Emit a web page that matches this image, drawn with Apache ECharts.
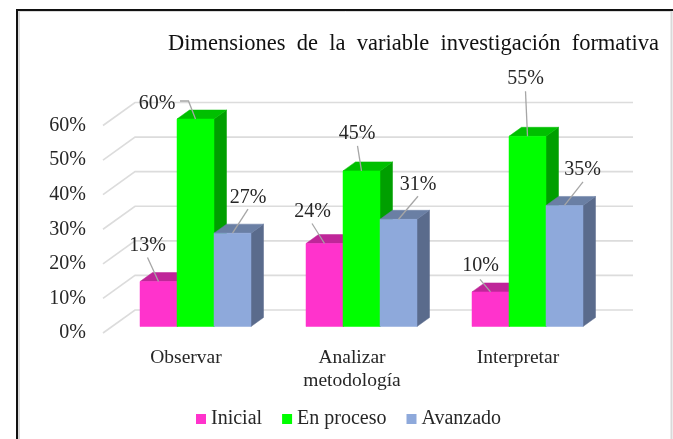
<!DOCTYPE html>
<html><head><meta charset="utf-8">
<style>html,body{margin:0;padding:0;background:#fff}#c{width:673px;height:439px}</style>
<script src="https://cdn.jsdelivr.net/npm/echarts@6/dist/echarts.min.js"></script>
</head><body><div id="c"></div>
<script>
const categories = ['Observar', 'Analizar\nmetodología', 'Interpretar'];
const inicial = [13, 24, 10];
const enProceso = [60, 45, 55];
const avanzado = [27, 31, 35];
const yTicks = [0, 10, 20, 30, 40, 50, 60];
const titleText = 'Dimensiones  de  la  variable  investigación  formativa';

// layout of the oblique projection (pixels)
const FONT = '"Liberation Serif", "Times New Roman", serif';
const WALL = [32, -23], BAR_SHIFT = [9.5, -6.5], BAR_DEPTH = [12.5, -9], BAR_W = 37;
// label centre and leader start, relative to the top-centre of each bar's front face
const inicialLabels = [[-11, -36, -11, -24], [-12, -32, -12.5, -20], [-10, -26, -10.5, -12.5]];
const procesoLabels = [[-38.5, -15.5, -15.5, -18, -7, -18], [-4.5, -37, -4, -25], [-2, -57.5, -2, -45]];
const avanzadoLabels = [[15.5, -35, 15.5, -24], [19.5, -35, 19.5, -23], [18, -36, 18.5, -23.5]];

const chart = echarts.init(document.getElementById('c'), null, {renderer: 'canvas'});

function barSeries(name, values, labels, col, idx) {
  return {
    name, type: 'custom', coordinateSystem: 'cartesian2d', z: 3 + idx,
    itemStyle: {color: col[0]},
    encode: {x: 0, y: 1},
    data: values.map((v, i) => [i, v]),
    renderItem(params, api) {
      const c = api.value(0), v = api.value(1);
      const p0 = api.coord([c, 0]), p1 = api.coord([c, v]);
      const x = p0[0] + BAR_SHIFT[0] + (idx - 1.5) * BAR_W;
      const yb = p0[1] + BAR_SHIFT[1], yt = p1[1] + BAR_SHIFT[1];
      const dx = BAR_DEPTH[0], dy = BAR_DEPTH[1], w = BAR_W;
      const poly = (pts, fill) => ({type: 'polygon', shape: {points: pts}, style: {fill, stroke: fill, lineWidth: 0.5}});
      const cx = x + w / 2, L = labels[c];
      const pts = [];
      for (let k = 2; k < L.length; k += 2) pts.push([cx + L[k], yt + L[k + 1]]);
      pts.push([cx, yt]);
      return {type: 'group', children: [
        poly([[x + w, yb], [x + w + dx, yb + dy], [x + w + dx, yt + dy], [x + w, yt]], col[2]),
        poly([[x, yt], [x + dx, yt + dy], [x + w + dx, yt + dy], [x + w, yt]], col[1]),
        poly([[x, yb], [x + w, yb], [x + w, yt], [x, yt]], col[0]),
        {type: 'polyline', z2: 20, shape: {points: pts}, style: {fill: null, stroke: '#A6A6A6', lineWidth: 1.3}},
        {type: 'text', z2: 30, x: cx + L[0], y: yt + L[1], style: {text: v + '%', font: '20px ' + FONT, fill: '#262626', align: 'center', verticalAlign: 'middle'}}
      ]};
    }
  };
}

const gridSeries = {
  type: 'custom', coordinateSystem: 'cartesian2d', silent: true, z: 1, legendHoverLink: false,
  data: yTicks.map(t => [0, t]),
  renderItem(params, api) {
    const v = api.value(1), s = params.coordSys;
    const p = api.coord([0, v]);
    const x0 = s.x, x1 = s.x + WALL[0], x2 = s.x + s.width + WALL[0], y0 = p[1], y1 = y0 + WALL[1];
    return {type: 'polyline', shape: {points: [[x0, y0], [x1, y1], [x2, y1]]},
      style: {fill: null, stroke: '#DCDCDC', lineWidth: 1.6}};
  }
};

chart.setOption({
  animation: false,
  backgroundColor: '#fff',
  title: {text: titleText, left: 168, top: 33, padding: 0,
    textStyle: {fontFamily: FONT, fontSize: 22.5, fontWeight: 'normal', color: '#111'}},
  grid: {left: 103, width: 498, top: 125.5, height: 207.5, containLabel: false},
  xAxis: {type: 'category', data: categories, axisLine: {show: false}, axisTick: {show: false}, splitLine: {show: false},
    axisLabel: {margin: 13, fontFamily: FONT, fontSize: 19.5, color: '#262626', lineHeight: 23, interval: 0}},
  yAxis: {type: 'value', min: 0, max: 60, interval: 10, axisLine: {show: false}, axisTick: {show: false}, splitLine: {show: false},
    axisLabel: {margin: 17, formatter: '{value}%', fontFamily: FONT, fontSize: 20, color: '#262626', padding: [3, 0, 0, 0]}},
  legend: {left: 196, top: 409, padding: 0, itemWidth: 10, itemHeight: 10, itemGap: 20, icon: 'rect',
    data: ['Inicial', 'En proceso', 'Avanzado'],
    textStyle: {fontFamily: FONT, fontSize: 20, color: '#262626'}},
  graphic: [
    {type: 'line', z: 100, shape: {x1: 17, y1: 10, x2: 673, y2: 10}, style: {stroke: '#111', lineWidth: 2}},
    {type: 'line', z: 100, shape: {x1: 17, y1: 9, x2: 17, y2: 439}, style: {stroke: '#111', lineWidth: 2}},
    {type: 'line', z: 99, shape: {x1: 19, y1: 11.5, x2: 672, y2: 11.5}, style: {stroke: '#D9D9D9', lineWidth: 1}},
    {type: 'line', z: 99, shape: {x1: 19, y1: 11, x2: 19, y2: 439}, style: {stroke: '#D9D9D9', lineWidth: 2}},
    {type: 'line', z: 99, shape: {x1: 671.5, y1: 11, x2: 671.5, y2: 439}, style: {stroke: '#D9D9D9', lineWidth: 2}}
  ],
  series: [
    gridSeries,
    barSeries('Inicial', inicial, inicialLabels, ['#FF33CC', '#BF2699', '#BF2699'], 0),
    barSeries('En proceso', enProceso, procesoLabels, ['#00FF00', '#00BF00', '#009F00'], 1),
    barSeries('Avanzado', avanzado, avanzadoLabels, ['#8EA9DB', '#6A7FA4', '#5A6B8C'], 2)
  ]
});
</script></body></html>
